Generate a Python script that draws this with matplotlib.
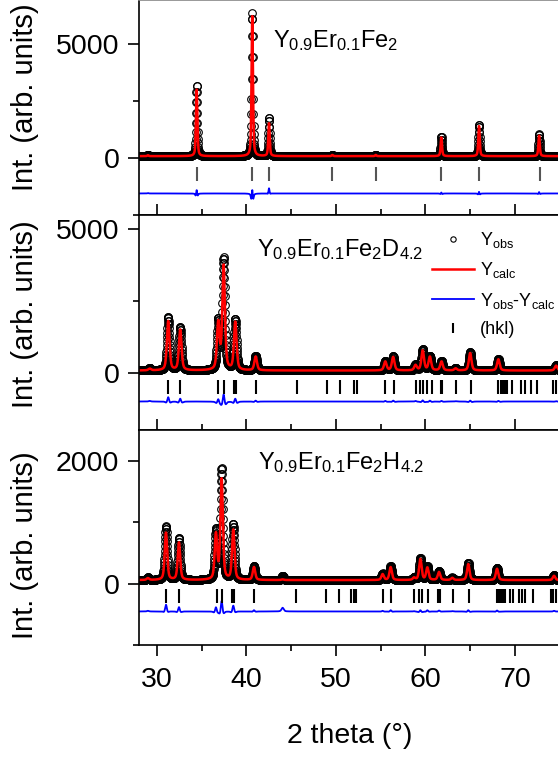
import numpy as np
import matplotlib
matplotlib.use('Agg')
import matplotlib.pyplot as plt
from matplotlib.ticker import MultipleLocator

plt.rcParams['font.family'] = ['Liberation Sans', 'DejaVu Sans']
plt.rcParams['mathtext.fontset'] = 'custom'
plt.rcParams['mathtext.rm'] = 'Liberation Sans'
plt.rcParams['mathtext.default'] = 'regular'

pos_fe2 = [29.0, 34.45, 40.66, 42.53, 49.6, 54.45, 61.78, 65.99, 72.7]
obs_fe2 = [60, 3100, 6300, 1680, 50, 50, 860, 1400, 960]
calc_fe2 = [40, 2950, 6150, 1450, 50, 50, 820, 1330, 900]
hkl_fe2 = [34.45, 40.66, 42.56, 49.6, 54.45, 61.78, 66.0, 72.77]

pos_d = [29.2, 31.27, 32.61, 36.86, 37.46, 38.76, 41.04, 55.52, 56.4, 58.9,
         59.7, 60.5, 61.8, 63.38, 65.0, 68.15, 74.6]
obs_d = [80, 1870, 1520, 1710, 3870, 1770, 510, 330, 500, 200,
         730, 500, 330, 80, 640, 410, 180]
calc_d = [60, 1720, 1420, 1620, 3620, 1670, 480, 310, 470, 180,
          690, 470, 310, 70, 610, 390, 170]
hkl_d = [31.27, 32.61, 36.86, 37.46, 38.64, 38.83, 41.04, 45.69, 49.04, 50.46,
         52.02, 52.39, 55.52, 56.53, 58.91, 59.40, 59.70, 60.18, 60.70, 61.71,
         61.89, 63.38, 65.09, 68.15, 68.41, 68.63, 68.89, 69.08, 69.71, 70.65,
         71.13, 71.76, 72.43, 74.29, 74.59]

pos_h = [29.0, 31.02, 32.47, 36.6, 37.24, 38.54, 40.85, 44.05, 55.22, 56.12,
         58.73, 59.44, 60.22, 61.52, 63.0, 64.79, 68.0, 74.37]
obs_h = [40, 880, 680, 800, 1800, 905, 230, 70, 105, 230,
         40, 360, 220, 145, 40, 280, 200, 80]
calc_h = [30, 770, 610, 730, 1630, 810, 210, 10, 95, 210,
          35, 340, 200, 130, 35, 260, 185, 70]
hkl_h = [31.02, 32.47, 36.68, 37.31, 38.43, 38.65, 40.85, 45.51, 48.86, 50.31,
         51.65, 52.02, 52.25, 55.22, 56.19, 58.73, 59.28, 59.58, 60.25, 61.44,
         61.63, 63.12, 64.84, 67.96, 68.19, 68.41, 68.63, 68.89, 69.45, 69.82,
         70.46, 70.76, 71.13, 72.06, 74.0, 74.29, 74.59]

labels = ['Y$_{0.9}$Er$_{0.1}$Fe$_2$',
          'Y$_{0.9}$Er$_{0.1}$Fe$_2$D$_{4.2}$',
          'Y$_{0.9}$Er$_{0.1}$Fe$_2$H$_{4.2}$']

tt = np.arange(28.0, 75.0, 0.02)


def profile(x, pos, heights, fwhm, base):
    y = np.full_like(x, base, dtype=float)
    for p, h in zip(pos, heights):
        d = (x - p) / fwhm
        y += h * (0.5 / (1 + 4 * d ** 2) + 0.5 * np.exp(-4 * np.log(2) * d ** 2))
    return y


panels = [
    dict(pos=pos_fe2, obs=obs_fe2, calc=calc_fe2, hkl=hkl_fe2, fwhm=0.17, base=90,
         ylim=(-2500, 6950), major=5000, minor=2500, diff=-1550, tick=-680,
         box=[0.249, 0.717, 0.754, 0.283], txt=(0.319, 0.78), hkl_col='#555555',
         lab_y=0.872),
    dict(pos=pos_d, obs=obs_d, calc=calc_d, hkl=hkl_d, fwhm=0.32, base=80,
         ylim=(-2000, 5500), major=5000, minor=2500, diff=-1000, tick=-490,
         box=[0.249, 0.434, 0.754, 0.283], txt=(0.281, 0.81), hkl_col='black',
         lab_y=0.586),
    dict(pos=pos_h, obs=obs_h, calc=calc_h, hkl=hkl_h, fwhm=0.30, base=60,
         ylim=(-1000, 2500), major=2000, minor=1000, diff=-450, tick=-200,
         box=[0.249, 0.151, 0.754, 0.283], txt=(0.283, 0.819), hkl_col='black',
         lab_y=0.282),
]

fig = plt.figure(figsize=(5.58, 7.6), dpi=100)

for i, p in enumerate(panels):
    ax = fig.add_axes(p['box'])
    yobs = profile(tt, p['pos'], p['obs'], p['fwhm'], p['base'])
    ycalc = profile(tt, p['pos'], p['calc'], p['fwhm'] * 1.08, p['base'])
    ax.plot(tt, yobs, 'o', mfc='none', mec='black', ms=5.5, mew=0.8, label='Y$_{obs}$')
    ax.plot(tt, ycalc, color='#ff0000', lw=1.8, label='Y$_{calc}$')
    ax.plot(tt, yobs - ycalc + p['diff'], color='#0000ff', lw=1.3,
            label='Y$_{obs}$-Y$_{calc}$')
    ax.plot(p['hkl'], [p['tick']] * len(p['hkl']), '|', color=p['hkl_col'],
            ms=10, mew=1.5, label='(hkl)')

    ax.set_xlim(28, 75)
    ax.set_ylim(*p['ylim'])
    ax.xaxis.set_major_locator(MultipleLocator(10))
    ax.xaxis.set_minor_locator(MultipleLocator(5))
    ax.yaxis.set_major_locator(MultipleLocator(p['major']))
    ax.yaxis.set_minor_locator(MultipleLocator(p['minor']))
    ax.tick_params(axis='y', which='both', direction='out', labelsize=20.5, pad=6,
                   width=1.2, right=False)
    ax.tick_params(axis='y', which='major', length=8)
    ax.tick_params(axis='y', which='minor', length=4)
    if i < 2:
        ax.tick_params(axis='x', which='both', direction='in', labelbottom=False,
                       width=1.2, top=False)
    else:
        ax.tick_params(axis='x', which='both', direction='out', labelsize=20.5,
                       pad=8, width=1.2, top=False)
        ax.set_xlabel('2 theta (°)', fontsize=20.5)
        ax.xaxis.set_label_coords(0.5, -0.36)
    ax.tick_params(axis='x', which='major', length=8)
    ax.tick_params(axis='x', which='minor', length=4)
    for s in ax.spines.values():
        s.set_linewidth(1.2)
    if i == 0:
        ax.spines['top'].set_color('#888888')

    ax.text(p['txt'][0], p['txt'][1], labels[i], transform=ax.transAxes,
            fontsize=17, va='baseline', ha='left')
    fig.text(0.045, p['lab_y'], 'Int. (arb. units)', rotation=90, fontsize=21,
             ha='center', va='center')

    if i == 1:
        leg = ax.legend(loc='upper left', bbox_to_anchor=(0.697, 0.93),
                        frameon=False, fontsize=13, handlelength=2.3,
                        handletextpad=0.35, labelspacing=0.57, borderpad=0,
                        borderaxespad=0, markerscale=0.7)

fig.savefig('out.png', dpi=100)
